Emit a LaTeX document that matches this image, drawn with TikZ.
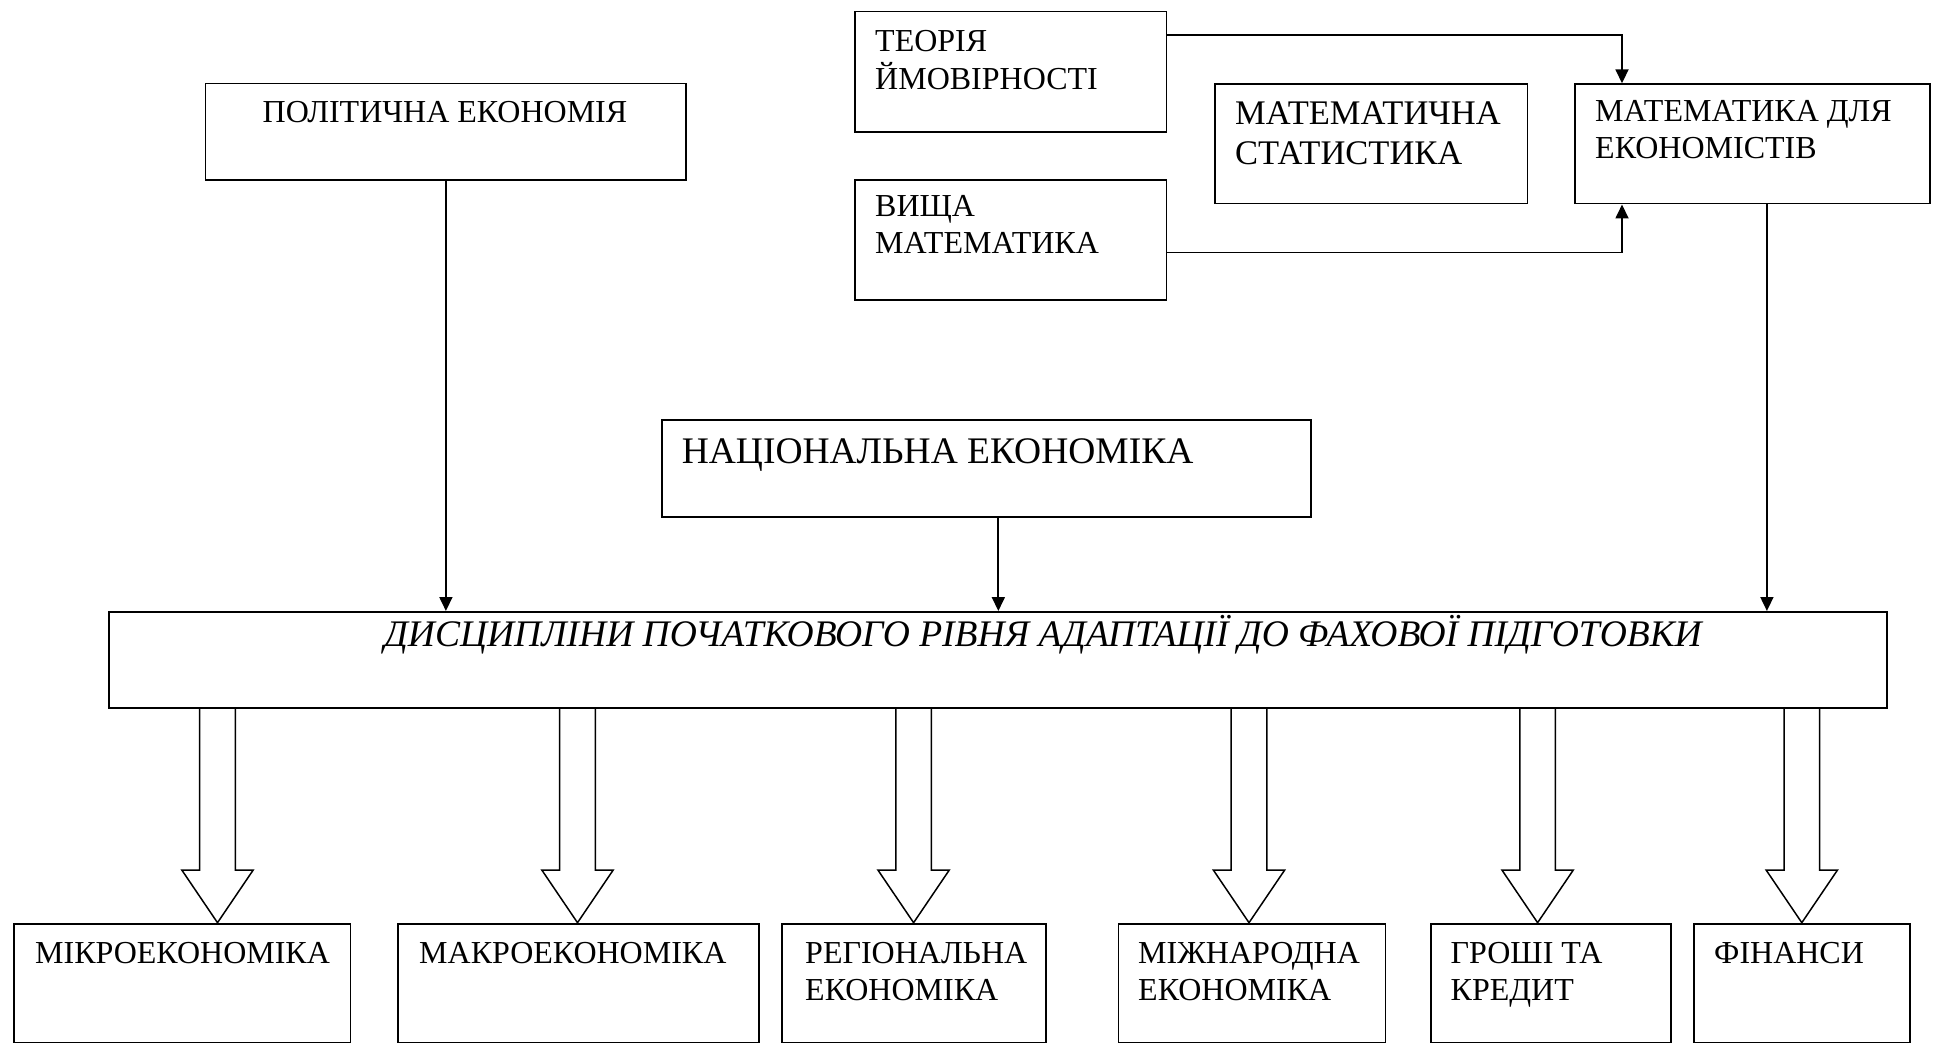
\documentclass[tikz,border=0pt]{standalone}
\usepackage{fontspec}
\setmainfont{Liberation Serif}
\usetikzlibrary{arrows.meta,calc}
\newcommand\twolines[2]{\begin{tabular}[t]{@{}l@{}}#1\\#2\end{tabular}}
\begin{document}
\begin{tikzpicture}[x=1pt,y=-1pt,
  box/.style={draw, line width=1.8pt, inner sep=0pt, anchor=north west},
  txt/.style={inner sep=0pt, anchor=base west, font=\fontsize{32}{37}\selectfont},
  bigtxt/.style={inner sep=0pt, font=\fontsize{37.5}{43}\selectfont},
  arr/.style={line width=1.8pt, -{Triangle[length=14pt,width=13pt]}},
  blk/.style={draw, line width=1.5pt, fill=white, line join=miter}]
\useasboundingbox (0,0) rectangle (1933,1043);
% boxes
\node[box, minimum width=480.8pt, minimum height=96.3pt] (pol) at (204.6,82.7) {};
\node[box, minimum width=311.5pt, minimum height=120.3pt] (teor) at (854,10.7) {};
\node[box, minimum width=312.3pt, minimum height=119.4pt] (mstat) at (1214.3,83.3) {};
\node[box, minimum width=355pt, minimum height=119.4pt] (mfe) at (1574,83.3) {};
\node[box, minimum width=311.5pt, minimum height=120pt] (vm) at (854,179) {};
\node[box, minimum width=648.5pt, minimum height=96.7pt] (nat) at (661.2,419) {};
\node[box, minimum width=1777.6pt, minimum height=96.3pt] (disc) at (108.4,611) {};
\node[box, minimum width=336.7pt, minimum height=119pt] (b1) at (12.8,922.7) {};
\node[box, minimum width=361.6pt, minimum height=119pt] (b2) at (396.7,922.7) {};
\node[box, minimum width=264.4pt, minimum height=119pt] (b3) at (781,922.7) {};
\node[box, minimum width=267pt, minimum height=119pt] (b4) at (1117.5,922.7) {};
\node[box, minimum width=240pt, minimum height=119pt] (b5) at (1430,922.7) {};
\node[box, minimum width=216pt, minimum height=119pt] (b6) at (1693,922.7) {};
% texts
\node[txt, anchor=base] (pol-t) at (445,123) {ПОЛІТИЧНА ЕКОНОМІЯ};
\node[txt] (teor-t) at (875,51.5) {\twolines{ТЕОРІЯ}{ЙМОВІРНОСТІ}};
\node[txt] (vm-t) at (875,217) {\twolines{ВИЩА}{МАТЕМАТИКА}};
\node[txt, font=\fontsize{34.5}{40}\selectfont] (mstat-t) at (1235,125) {\twolines{МАТЕМАТИЧНА}{СТАТИСТИКА}};
\node[txt] (mfe-t) at (1595,121.7) {\twolines{МАТЕМАТИКА ДЛЯ}{ЕКОНОМІСТІВ}};
\node[bigtxt, anchor=base west] (nat-t) at (681.6,463) {НАЦІОНАЛЬНА ЕКОНОМІКА};
\node[bigtxt, anchor=base] (disc-t) at (1043,646.7) {\itshape ДИСЦИПЛІНИ ПОЧАТКОВОГО РІВНЯ АДАПТАЦІЇ ДО ФАХОВОЇ ПІДГОТОВКИ};
\node[txt] (b1-t) at (35,963.3) {МІКРОЕКОНОМІКА};
\node[txt] (b2-t) at (419,963.3) {МАКРОЕКОНОМІКА};
\node[txt] (b3-t) at (805,963.3) {\twolines{РЕГІОНАЛЬНА}{ЕКОНОМІКА}};
\node[txt] (b4-t) at (1138,963.3) {\twolines{МІЖНАРОДНА}{ЕКОНОМІКА}};
\node[txt] (b5-t) at (1450.5,963.3) {\twolines{ГРОШІ ТА}{КРЕДИТ}};
\node[txt] (b6-t) at (1714,963.3) {ФІНАНСИ};
% line connectors
\draw[arr] (pol.south) -- (pol.south |- disc.north);
\draw[arr] ([xshift=12pt]nat.south) -- ([xshift=12pt]nat.south |- disc.north);
\draw[arr] ([xshift=14.5pt]mfe.south) -- ([xshift=14.5pt]mfe.south |- disc.north);
\draw[arr] ([yshift=-24pt]teor.north east) -| ([xshift=48pt]mfe.north west);
\draw[arr] ([yshift=48.3pt]vm.south east) -| ([xshift=48pt]mfe.south west);
% block arrows
\foreach \n/\x in {1/217.5, 2/577.5, 3/913.6, 4/1249, 5/1537.6, 6/1801.8} {
  \coordinate (top\n) at (\x,0 |- disc.south);
  \coordinate (tip\n) at (\x,0 |- b\n.north);
  \draw[blk] ([xshift=-17.8pt]top\n) -- ([xshift=-17.8pt,yshift=52.7pt]tip\n)
    -- ([xshift=-35.7pt,yshift=52.7pt]tip\n) -- (tip\n)
    -- ([xshift=35.7pt,yshift=52.7pt]tip\n) -- ([xshift=17.8pt,yshift=52.7pt]tip\n)
    -- ([xshift=17.8pt]top\n);
}
\end{tikzpicture}
\end{document}
